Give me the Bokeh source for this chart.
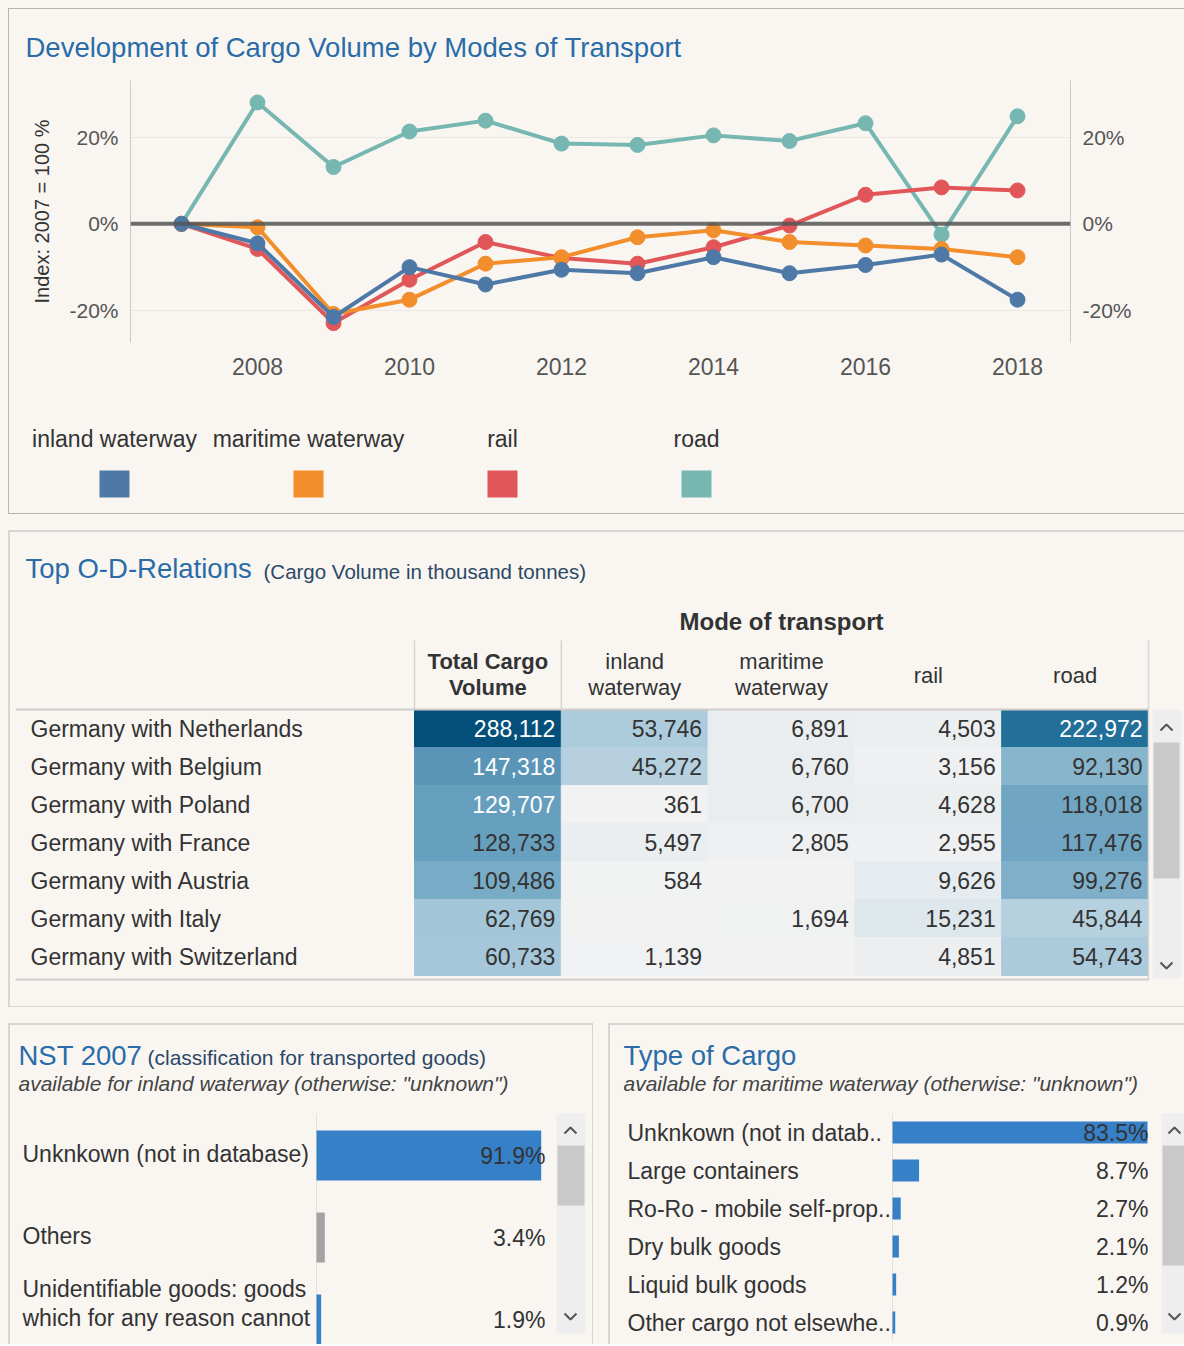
from bokeh.plotting import figure
from bokeh.layouts import column, row
from bokeh.models import (Range1d, FactorRange, LinearAxis, FixedTicker,
                          PrintfTickFormatter, Span, ColumnDataSource, Spacer)
from bokeh.core.properties import value
from bokeh.embed import file_html
from bokeh.resources import INLINE

# ---------------------------------------------------------------- data
years = [2007, 2008, 2009, 2010, 2011, 2012, 2013, 2014, 2015, 2016, 2017, 2018]
idx_inland = [0, -4.5, -21.5, -10.0, -14.0, -10.6, -11.4, -7.7, -11.4, -9.5, -7.1, -17.5]
idx_maritime = [0, -0.8, -20.8, -17.5, -9.2, -7.7, -3.1, -1.5, -4.2, -5.0, -5.8, -7.7]
idx_rail = [0, -5.8, -22.9, -12.9, -4.2, -7.9, -9.2, -5.4, -0.4, 6.7, 8.4, 7.7]
idx_road = [0, 28.0, 13.1, 21.3, 23.8, 18.5, 18.2, 20.4, 19.1, 23.2, -2.5, 24.8]
modes = ["inland waterway", "maritime waterway", "rail", "road"]
mode_colors = ["#4e79a7", "#f28e2b", "#e15759", "#76b7b2"]
y_ticks = [-20, 0, 20]
x_ticks = [2008, 2010, 2012, 2014, 2016, 2018]

relations = ["Germany with Netherlands", "Germany with Belgium", "Germany with Poland",
             "Germany with France", "Germany with Austria", "Germany with Italy",
             "Germany with Switzerland"]
total_volume = [288112, 147318, 129707, 128733, 109486, 62769, 60733]
inland_volume = [53746, 45272, 361, 5497, 584, None, 1139]
maritime_volume = [6891, 6760, 6700, 2805, None, 1694, None]
rail_volume = [4503, 3156, 4628, 2955, 9626, 15231, 4851]
road_volume = [222972, 92130, 118018, 117476, 99276, 45844, 54743]
table_headers = [["Total Cargo", "Volume"], ["inland", "waterway"],
                 ["maritime", "waterway"], ["rail"], ["road"]]

nst_labels = ["Unknkown (not in database)", "Others",
              "Unidentifiable goods: goods\nwhich for any reason cannot"]
nst_share = [91.9, 3.4, 1.9]
nst_colors = ["#3680c8", "#a3a3a3", "#3680c8"]

cargo_labels = ["Unknkown (not in datab..", "Large containers", "Ro-Ro - mobile self-prop..",
                "Dry bulk goods", "Liquid bulk goods", "Other cargo not elsewhe.."]
cargo_share = [83.5, 8.7, 2.7, 2.1, 1.2, 0.9]

# ---------------------------------------------------------------- style
BG = "#f9f6f2"
FONT = "Liberation Sans"
TITLE_BLUE = "#2a6ca8"
SUB_BLUE = "#2c4866"
TXT = "#333333"
TICK = "#555555"
BORDER = "#b8b5b1"


def base_fig(w, h, xr, yr, **kw):
    opts = dict(width=w, height=h, x_range=xr, y_range=yr, toolbar_location=None,
                output_backend="svg", background_fill_color=BG, border_fill_color=BG,
                x_axis_location=None, y_axis_location=None, min_border=0,
                frame_align=False)
    opts.update(kw)
    p = figure(**opts)
    p.outline_line_color = None
    p.xgrid.grid_line_color = None
    p.ygrid.grid_line_color = None
    return p


def put_text(p, xs, ys, texts, size, color=TXT, align="left", baseline="middle",
             style="normal", font=FONT, **kw):
    src = ColumnDataSource(dict(x=xs, y=ys, t=texts))
    p.text(x="x", y="y", text="t", source=src, text_font=value(font),
           text_font_size=size, text_color=color, text_align=align,
           text_baseline=baseline, text_font_style=style, **kw)


def edges(p, sides):
    x0, x1 = p.x_range.start, p.x_range.end
    y0, y1 = p.y_range.start, p.y_range.end   # y0 = bottom, y1 = top
    segs = {"left": (x0, y0, x0, y1), "right": (x1, y0, x1, y1),
            "top": (x0, y1, x1, y1), "bottom": (x0, y0, x1, y0)}
    s = [segs[k] for k in sides]
    p.segment(x0=[a[0] for a in s], y0=[a[1] for a in s], x1=[a[2] for a in s],
              y1=[a[3] for a in s], line_color=BORDER, line_width=2)


def chevrons(p, fx, fy, cx, cy_up, cy_dn):
    xs = [[fx(cx - 6), fx(cx), fx(cx + 6)], [fx(cx - 6), fx(cx), fx(cx + 6)]]
    ys = [[fy(cy_up + 3), fy(cy_up - 3), fy(cy_up + 3)],
          [fy(cy_dn - 3), fy(cy_dn + 3), fy(cy_dn - 3)]]
    p.multi_line(xs, ys, line_color="#555555", line_width=2)


# ================================================================ panel 1
W1 = 1175
# title strip (page coordinates)
pt1 = base_fig(W1, 62, Range1d(9, 9 + W1), Range1d(9 + 62, 9))
put_text(pt1, [25], [47], ["Development of Cargo Volume by Modes of Transport"],
         "27.5px", color=TITLE_BLUE)

# line chart
pc = figure(width=W1, height=338, x_range=Range1d(2006.329, 2018.697),
            y_range=Range1d(-27.38, 33.06), toolbar_location=None, output_backend="svg",
            background_fill_color=BG, border_fill_color=BG, frame_align=False,
            min_border_left=121, min_border_right=W1 - 121 - 940, min_border_top=9,
            min_border_bottom=67)
pc.outline_line_color = None
pc.xgrid.visible = False
pc.ygrid.ticker = FixedTicker(ticks=[-20, 20])
pc.ygrid.grid_line_color = "#ebe7e2"

pc.yaxis.ticker = FixedTicker(ticks=y_ticks)
pc.yaxis.formatter = PrintfTickFormatter(format="%d%%")
pc.yaxis.axis_label = "Index: 2007 = 100 %"
pc.yaxis.axis_label_text_font = FONT
pc.yaxis.axis_label_text_font_size = "20px"
pc.yaxis.axis_label_text_font_style = "normal"
pc.yaxis.axis_label_text_color = TXT
pc.yaxis.axis_label_standoff = 13

right_axis = LinearAxis(ticker=FixedTicker(ticks=y_ticks),
                        formatter=PrintfTickFormatter(format="%d%%"))
pc.add_layout(right_axis, "right")

for ax in [pc.yaxis[0], right_axis, pc.xaxis[0]]:
    ax.major_tick_line_color = None
    ax.minor_tick_line_color = None
    ax.major_tick_out = 0
    ax.major_tick_in = 0
    ax.minor_tick_out = 0
    ax.minor_tick_in = 0
    ax.major_label_text_font = FONT
    ax.major_label_text_color = TICK

for ax in [pc.yaxis[0], right_axis]:
    ax.axis_line_color = "#cdc9c5"
    ax.major_label_text_font_size = "21px"
    ax.major_label_standoff = 12

pc.xaxis.ticker = FixedTicker(ticks=x_ticks)
pc.xaxis.axis_line_color = None
pc.xaxis.major_label_text_font_size = "23px"
pc.xaxis.major_label_standoff = 15

series = [idx_inland, idx_maritime, idx_rail, idx_road]
for vals, col in reversed(list(zip(series, mode_colors))):
    pc.line(years, vals, line_color=col, line_width=4)
    pc.scatter(years, vals, size=15, fill_color=col, line_color=col)

pc.add_layout(Span(location=0, dimension="width", line_color="#555555",
                   line_width=4, line_alpha=0.85))

# legend strip
pl = base_fig(W1, 104, FactorRange(factors=modes), Range1d(513, 409),
              min_border_left=8, min_border_right=W1 - 8 - 776)
put_text(pl, modes, [438] * 4, modes, "23px", align="center")
pl.rect(x=modes, y=[483.5] * 4, width=30, height=27, width_units="screen",
        fill_color=mode_colors, line_color=None)

bline = "1px solid " + BORDER
panel1 = column(pt1, pc, pl, spacing=0,
                styles={"border-left": bline, "border-top": bline,
                        "border-bottom": bline, "background-color": BG})

# ================================================================ panel 2 : table
U, C0, RH, R0 = 146.8, 487.4, 38.0, 728.0


def tx(px):
    return (px - C0) / U


def ty(py):
    return (py - R0) / RH


ANCH_V = [0, 50000, 100000, 130000, 150000, 225000, 290000]
ANCH_C = [(242, 242, 242), (176, 205, 221), (127, 176, 201), (102, 159, 190),
          (88, 147, 183), (33, 110, 152), (3, 79, 121)]


def shade(v):
    v = 0 if v is None else v
    for i in range(len(ANCH_V) - 1):
        if v <= ANCH_V[i + 1] or i == len(ANCH_V) - 2:
            t = min(1.0, (v - ANCH_V[i]) / (ANCH_V[i + 1] - ANCH_V[i]))
            c = [round(a + (b - a) * t) for a, b in zip(ANCH_C[i], ANCH_C[i + 1])]
            return "#%02x%02x%02x" % tuple(c)


ptab = base_fig(1176, 477, Range1d(tx(8), tx(1184)), Range1d(ty(1007), ty(530)))

cx, cy, cfill, ctxt, ctc, cxr = [], [], [], [], [], []
for ci, colv in enumerate([total_volume, inland_volume, maritime_volume,
                           rail_volume, road_volume]):
    for ri, v in enumerate(colv):
        cx.append(ci)
        cy.append(ri)
        cxr.append(ci + 0.5)
        cfill.append(shade(v))
        ctxt.append("" if v is None else f"{v:,}")
        ctc.append("#ffffff" if (v is not None and v >= 129000) else TXT)
csrc = ColumnDataSource(dict(x=cx, y=cy, xr=cxr, fill=cfill, t=ctxt, tc=ctc))
ptab.rect(x="x", y="y", width=1, height=1, fill_color="fill", line_color="fill",
          line_width=1, source=csrc)
ptab.text(x="xr", y="y", text="t", text_color="tc", source=csrc, x_offset=-6,
          text_font=value(FONT), text_font_size="23px", text_align="right",
          text_baseline="middle")

put_text(ptab, [tx(30)] * len(relations), list(range(len(relations))), relations, "23px")

# headers
put_text(ptab, [2], [ty(621)], ["Mode of transport"], "24px", align="center", style="bold")
hx, hy, ht, hs = [], [], [], []
for ci, lines in enumerate(table_headers):
    if len(lines) == 2:
        for li, ln in enumerate(lines):
            hx.append(ci); hy.append(ty(661 + 26 * li)); ht.append(ln)
            hs.append("bold" if ci == 0 else "normal")
    else:
        hx.append(ci); hy.append(ty(675)); ht.append(lines[0]); hs.append("normal")
hsrc = ColumnDataSource(dict(x=hx, y=hy, t=ht, s=hs))
ptab.text(x="x", y="y", text="t", text_font_style="s", source=hsrc,
          text_font=value(FONT), text_font_size="22px", text_color=TXT,
          text_align="center", text_baseline="middle")

# rule lines
ptab.segment(x0=[-0.5, 0.5, 4.5], y0=[ty(640)] * 3, x1=[-0.5, 0.5, 4.5],
             y1=[-0.5, -0.5, ty(980)], line_color="#d8d5d2", line_width=1.5)
ptab.segment(x0=[tx(15), tx(15)], y0=[-0.5, ty(979)], x1=[4.5, 4.5],
             y1=[-0.5, ty(979)], line_color="#cfccc9", line_width=2)

# scrollbar
ptab.quad(left=[tx(1152)], right=[tx(1181)], top=[-0.5], bottom=[ty(978)],
          fill_color="#eeeeee", line_color=None)
ptab.quad(left=[tx(1153)], right=[tx(1179)], top=[ty(742)], bottom=[ty(878)],
          fill_color="#c9c9c9", line_color=None)
chevrons(ptab, tx, ty, 1166, 727, 965)

# title
put_text(ptab, [tx(25)], [ty(568)], ["Top O-D-Relations"], "27.5px", color=TITLE_BLUE)
put_text(ptab, [tx(263)], [ty(571)], ["(Cargo Volume in thousand tonnes)"], "20.5px",
         color=SUB_BLUE)
edges(ptab, ["left", "top", "bottom"])

# ================================================================ panel 3 : NST 2007
B3X0, B3S, B3R0, B3P = 316.0, 2.445, 1155.0, 82.0
BOT = 1344


def b3x(px):
    return (px - B3X0) / B3S


def b3y(py):
    return (py - B3R0) / B3P


p3 = base_fig(585, BOT - 1023, Range1d(b3x(8), b3x(593)), Range1d(b3y(BOT), b3y(1023)))

n_rows = list(range(len(nst_share)))
p3.quad(left=[b3x(556)], right=[b3x(585)], top=[b3y(1113)], bottom=[b3y(1333)],
        fill_color="#eeeeee", line_color=None)
p3.quad(left=[b3x(557)], right=[b3x(584)], top=[b3y(1145)], bottom=[b3y(1205)],
        fill_color="#c9c9c9", line_color=None)
chevrons(p3, b3x, b3y, 570, 1130, 1316)
p3.segment(x0=[0], y0=[b3y(1113)], x1=[0], y1=[b3y(1340)], line_color="#e4e0dc",
           line_width=1)
p3.hbar(y=n_rows, left=0, right=nst_share, height=0.61, fill_color=nst_colors,
        line_color=None)
nst_off = [-16 if "\n" in s else -2 for s in nst_labels]
src3 = ColumnDataSource(dict(x=[b3x(22)] * len(nst_labels), y=n_rows, t=nst_labels,
                             off=nst_off))
p3.text(x="x", y="y", text="t", y_offset="off", source=src3, text_font=value(FONT),
        text_font_size="23px", text_color=TXT, text_align="left",
        text_baseline="middle", text_line_height=1.15)
put_text(p3, [b3x(545)] * len(nst_share), n_rows, [f"{v:.1f}%" for v in nst_share],
         "23px", align="right")
put_text(p3, [b3x(18)], [b3y(1055)], ["NST 2007"], "27.5px", color=TITLE_BLUE)
put_text(p3, [b3x(147)], [b3y(1057)], ["(classification for transported goods)"],
         "21px", color=SUB_BLUE)
put_text(p3, [b3x(18)], [b3y(1083)],
         ['available for inland waterway (otherwise: "unknown")'], "21px",
         color="#444444", style="italic")
edges(p3, ["left", "top", "right"])

# ================================================================ panel 4 : Type of cargo
B4X0, B4S, B4R0, B4P = 892.0, 3.054, 1132.0, 38.0


def b4x(px):
    return (px - B4X0) / B4S


def b4y(py):
    return (py - B4R0) / B4P


p4 = base_fig(576, BOT - 1023, Range1d(b4x(608), b4x(1184)), Range1d(b4y(BOT), b4y(1023)))

c_rows = list(range(len(cargo_share)))
p4.quad(left=[b4x(1161)], right=[b4x(1186)], top=[b4y(1113)], bottom=[b4y(1333)],
        fill_color="#eeeeee", line_color=None)
p4.quad(left=[b4x(1162)], right=[b4x(1186)], top=[b4y(1145)], bottom=[b4y(1265)],
        fill_color="#c9c9c9", line_color=None)
chevrons(p4, b4x, b4y, 1174, 1130, 1316)
p4.segment(x0=[0], y0=[b4y(1113)], x1=[0], y1=[b4y(1340)], line_color="#e4e0dc",
           line_width=1)
p4.hbar(y=c_rows, left=0, right=cargo_share, height=0.58, fill_color="#3680c8",
        line_color=None)
put_text(p4, [b4x(627)] * len(cargo_labels), c_rows, cargo_labels, "23px")
put_text(p4, [b4x(1148)] * len(cargo_share), c_rows, [f"{v:.1f}%" for v in cargo_share],
         "23px", align="right")
put_text(p4, [b4x(623)], [b4y(1055)], ["Type of Cargo"], "27.5px", color=TITLE_BLUE)
put_text(p4, [b4x(623)], [b4y(1083)],
         ['available for maritime waterway (otherwise: "unknown")'], "21px",
         color="#444444", style="italic")
edges(p4, ["left", "top"])

# ================================================================ layout
bg_style = {"background-color": BG}
main = column(panel1, ptab, row(p3, p4, spacing=15), spacing=16, styles=bg_style)
layout = column(Spacer(width=1184, height=8, styles=bg_style),
                row(Spacer(width=8, height=BOT - 8, styles=bg_style), main, spacing=0),
                spacing=0, styles=bg_style)

open("out.html", "w").write(file_html(layout, INLINE))
